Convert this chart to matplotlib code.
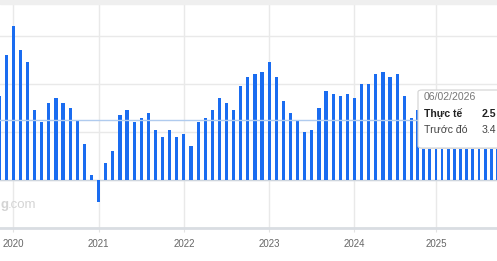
import numpy as np
import matplotlib
matplotlib.use("Agg")
import matplotlib.pyplot as plt
from matplotlib.patches import FancyBboxPatch, Rectangle

plt.rcParams["font.family"] = ["Liberation Sans", "DejaVu Sans"]

# monthly values, Nov 2019 -> Jan 2026 (under the tooltip: estimated)
values = [
    3.5, 5.2,
    6.4, 5.4, 4.9, 2.9, 2.4, 3.2, 3.4, 3.2, 3.0, 2.5, 1.5, 0.2,
    -0.9, 0.7, 1.2, 2.7, 2.9, 2.4, 2.6, 2.8, 2.1, 1.8, 2.1, 1.8,
    1.9, 1.4, 2.4, 2.6, 2.9, 3.4, 3.2, 2.9, 3.9, 4.3, 4.4, 4.5,
    4.9, 4.3, 3.3, 2.8, 2.5, 2.0, 2.1, 3.0, 3.7, 3.6, 3.5, 3.6,
    3.4, 4.0, 4.0, 4.4, 4.5, 4.3, 4.4, 3.5, 2.6, 2.9, 2.8, 2.9,
    3.6, 2.9, 3.1, 3.1, 3.2, 3.6, 3.2, 3.2, 3.4, 3.3, 3.6, 3.4,
    2.5,
]
start_offset = -2  # first value is Nov 2019, index 0 = Jan 2020
year_labels = ["2020", "2021", "2022", "2023", "2024", "2025"]
year_ticks = [0, 12, 24, 36, 48, 60]

tip_date = "06/02/2026"
tip_actual = 2.5
tip_previous = 3.4

# the screenshot squeezes the months after Sep 2024
BREAK = 56
K = 0.865


def fwd(x):
    x = np.asarray(x, dtype=float)
    return np.where(x <= BREAK, x, BREAK + (x - BREAK) * K)


def inv(y):
    y = np.asarray(y, dtype=float)
    return np.where(y <= BREAK, y, BREAK + (y - BREAK) / K)


x = np.arange(len(values)) + start_offset

fig = plt.figure(figsize=(4.97, 2.61), dpi=100)
ax = fig.add_axes([0, 33 / 261, 1, 228 / 261])
ax.set_xscale("function", functions=(fwd, inv))

ax.bar(x, values, width=0.45, color="#1a6cf0", zorder=3)

ax.set_xlim(-1.87, 69.93)
ax.set_ylim(-2, 7.5)
ax.set_yticks([-2, 0, 2, 4, 6])
ax.set_xticks(year_ticks)
ax.set_xticklabels(year_labels)
ax.xaxis.set_minor_locator(matplotlib.ticker.NullLocator())

ax.grid(True, color="#e9e9e9", linewidth=1, zorder=0)
ax.axhline(0, color="#cdd5de", linewidth=1, zorder=2)
ax.axhline(tip_actual, color="#b0cbee", linewidth=1, zorder=4)

for s in ["top", "right", "left"]:
    ax.spines[s].set_visible(False)
ax.spines["bottom"].set_color("#d9dde2")
ax.spines["bottom"].set_linewidth(2)

ax.tick_params(axis="y", left=False, labelleft=False)
ax.tick_params(axis="x", length=3, color="#e3e3e3", pad=5,
               labelsize=7, labelcolor="#666666")

# watermark (only the tail of the logo shows)
fig.text(0.5 / 497, 1 - 205 / 261, "g", fontsize=9.5, fontweight="bold",
         color="#d4d4d4", ha="left", va="center")
fig.text(7.5 / 497, 1 - 205 / 261, ".com", fontsize=9.5,
         color="#d4d4d4", ha="left", va="center")

# top shadow
fig.patches.append(Rectangle((0, 1 - 4 / 261), 1, 4 / 261,
                             transform=fig.transFigure, color="#efefef",
                             zorder=0))

# tooltip
shadow = FancyBboxPatch((419 / 497, 1 - 149 / 261), 0.3, 58 / 261,
                        boxstyle="round,pad=0,rounding_size=0.008",
                        transform=fig.transFigure, facecolor="#e2e2e2",
                        edgecolor="none", zorder=5)
box = FancyBboxPatch((418 / 497, 1 - 148 / 261), 0.3, 58 / 261,
                     boxstyle="round,pad=0,rounding_size=0.008",
                     transform=fig.transFigure, facecolor="white",
                     edgecolor="#d2d2d2", linewidth=0.8, zorder=6)
fig.patches.extend([shadow, box])

fig.text(424 / 497, 1 - 97 / 261, tip_date, fontsize=7.6, color="#777777",
         va="center", zorder=7)
fig.text(424 / 497, 1 - 114 / 261, "Thực tế", fontsize=7.6,
         fontweight="bold", color="#222222", va="center", zorder=7)
fig.text(482 / 497, 1 - 114 / 261, f"{tip_actual}", fontsize=7.6,
         fontweight="bold", color="#222222", va="center", zorder=7)
fig.text(424 / 497, 1 - 130 / 261, "Trước đó", fontsize=7.6,
         color="#444444", va="center", zorder=7)
fig.text(482 / 497, 1 - 130 / 261, f"{tip_previous}", fontsize=7.6,
         color="#444444", va="center", zorder=7)

fig.savefig("out.png", dpi=100)
